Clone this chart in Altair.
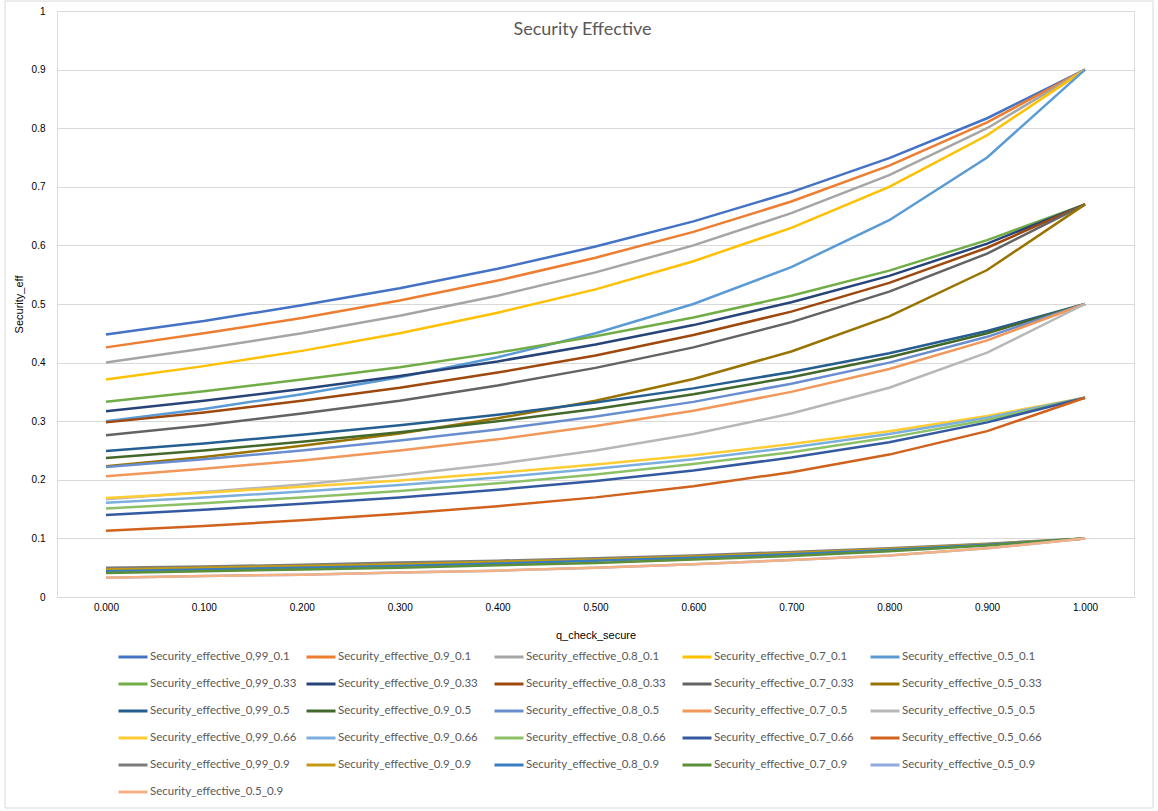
import altair as alt
import pandas as pd

# x axis: probability that a check is secure
q_check_secure = [0.0, 0.1, 0.2, 0.3, 0.4, 0.5, 0.6, 0.7, 0.8, 0.9, 1.0]

# --- group ending at 0.9 ---
eff_099_01 = [0.448, 0.471, 0.498, 0.527, 0.560, 0.598, 0.641, 0.691, 0.749, 0.817, 0.900]
eff_09_01 = [0.426, 0.450, 0.476, 0.506, 0.540, 0.579, 0.623, 0.675, 0.736, 0.810, 0.900]
eff_08_01 = [0.400, 0.424, 0.450, 0.480, 0.514, 0.554, 0.600, 0.655, 0.720, 0.800, 0.900]
eff_07_01 = [0.371, 0.394, 0.420, 0.450, 0.485, 0.525, 0.573, 0.630, 0.700, 0.788, 0.900]
eff_05_01 = [0.300, 0.321, 0.346, 0.375, 0.409, 0.450, 0.500, 0.563, 0.643, 0.750, 0.900]

# --- group ending at 0.67 ---
eff_099_033 = [0.333, 0.351, 0.371, 0.392, 0.417, 0.445, 0.477, 0.514, 0.557, 0.609, 0.670]
eff_09_033 = [0.317, 0.335, 0.355, 0.377, 0.402, 0.431, 0.464, 0.503, 0.548, 0.603, 0.670]
eff_08_033 = [0.298, 0.315, 0.335, 0.357, 0.383, 0.412, 0.447, 0.487, 0.536, 0.596, 0.670]
eff_07_033 = [0.276, 0.293, 0.313, 0.335, 0.361, 0.391, 0.426, 0.469, 0.521, 0.586, 0.670]
eff_05_033 = [0.223, 0.239, 0.258, 0.279, 0.305, 0.335, 0.372, 0.419, 0.479, 0.558, 0.670]

# --- group ending at 0.5 ---
eff_099_05 = [0.249, 0.262, 0.277, 0.293, 0.311, 0.332, 0.356, 0.384, 0.416, 0.454, 0.500]
eff_09_05 = [0.237, 0.250, 0.265, 0.281, 0.300, 0.321, 0.346, 0.375, 0.409, 0.450, 0.500]
eff_08_05 = [0.222, 0.235, 0.250, 0.267, 0.286, 0.308, 0.333, 0.364, 0.400, 0.444, 0.500]
eff_07_05 = [0.206, 0.219, 0.233, 0.250, 0.269, 0.292, 0.318, 0.350, 0.389, 0.438, 0.500]
eff_05_05 = [0.167, 0.179, 0.192, 0.208, 0.227, 0.250, 0.278, 0.313, 0.357, 0.417, 0.500]

# --- group ending at 0.34 ---
eff_099_066 = [0.169, 0.178, 0.188, 0.199, 0.212, 0.226, 0.242, 0.261, 0.283, 0.309, 0.340]
eff_09_066 = [0.161, 0.170, 0.180, 0.191, 0.204, 0.219, 0.235, 0.255, 0.278, 0.306, 0.340]
eff_08_066 = [0.151, 0.160, 0.170, 0.181, 0.194, 0.209, 0.227, 0.247, 0.272, 0.302, 0.340]
eff_07_066 = [0.140, 0.149, 0.159, 0.170, 0.183, 0.198, 0.216, 0.238, 0.264, 0.298, 0.340]
eff_05_066 = [0.113, 0.121, 0.131, 0.142, 0.155, 0.170, 0.189, 0.213, 0.243, 0.283, 0.340]

# --- group ending at 0.1 ---
eff_099_09 = [0.050, 0.052, 0.055, 0.059, 0.062, 0.066, 0.071, 0.077, 0.083, 0.091, 0.100]
eff_09_09 = [0.047, 0.050, 0.053, 0.056, 0.060, 0.064, 0.069, 0.075, 0.082, 0.090, 0.100]
eff_08_09 = [0.044, 0.047, 0.050, 0.053, 0.057, 0.062, 0.067, 0.073, 0.080, 0.089, 0.100]
eff_07_09 = [0.041, 0.044, 0.047, 0.050, 0.054, 0.058, 0.064, 0.070, 0.078, 0.088, 0.100]
eff_05_09 = [0.033, 0.036, 0.038, 0.042, 0.045, 0.050, 0.056, 0.063, 0.071, 0.083, 0.100]
eff_05_09_b = [0.033, 0.036, 0.038, 0.042, 0.045, 0.050, 0.056, 0.063, 0.071, 0.083, 0.100]

series_names = [
    "Security_effective_0,99_0.1", "Security_effective_0.9_0.1", "Security_effective_0.8_0.1",
    "Security_effective_0.7_0.1", "Security_effective_0.5_0.1",
    "Security_effective_0,99_0.33", "Security_effective_0.9_0.33", "Security_effective_0.8_0.33",
    "Security_effective_0.7_0.33", "Security_effective_0.5_0.33",
    "Security_effective_0,99_0.5", "Security_effective_0.9_0.5", "Security_effective_0.8_0.5",
    "Security_effective_0.7_0.5", "Security_effective_0.5_0.5",
    "Security_effective_0,99_0.66", "Security_effective_0.9_0.66", "Security_effective_0.8_0.66",
    "Security_effective_0.7_0.66", "Security_effective_0.5_0.66",
    "Security_effective_0,99_0.9", "Security_effective_0.9_0.9", "Security_effective_0.8_0.9",
    "Security_effective_0.7_0.9", "Security_effective_0.5_0.9",
    "Security_effective_0.5_0.9 ",  # second series carrying the same label
]

series_values = [
    eff_099_01, eff_09_01, eff_08_01, eff_07_01, eff_05_01,
    eff_099_033, eff_09_033, eff_08_033, eff_07_033, eff_05_033,
    eff_099_05, eff_09_05, eff_08_05, eff_07_05, eff_05_05,
    eff_099_066, eff_09_066, eff_08_066, eff_07_066, eff_05_066,
    eff_099_09, eff_09_09, eff_08_09, eff_07_09, eff_05_09, eff_05_09_b,
]

series_colors = [
    "#4472C4", "#ED7D31", "#A5A5A5", "#FFC000", "#5B9BD5",
    "#70AD47", "#264478", "#9E480E", "#636363", "#997300",
    "#255E91", "#43682B", "#698ED0", "#F1975A", "#B7B7B7",
    "#FFCD33", "#7CAFDD", "#8CC168", "#335AA1", "#D0621D",
    "#7C7C7C", "#C49A12", "#3A7CC0", "#5B8F3A", "#8FAADC", "#F4B183",
]

rows = []
for name, vals in zip(series_names, series_values):
    for q, v in zip(q_check_secure, vals):
        rows.append({"series": name, "q": q, "eff": v})
df = pd.DataFrame(rows)

FONT = "Lato"
TEXT = "#595959"
GRID = "#D9D9D9"

lines = alt.Chart(df).mark_line(strokeWidth=2.5).encode(
    x=alt.X(
        "q:Q",
        scale=alt.Scale(domain=[-0.05, 1.05], nice=False, zero=False),
        axis=alt.Axis(
            values=q_check_secure, format=".3f", grid=False, ticks=False, domain=False,
            title="q_check_secure", titleFontWeight="normal", labelPadding=5, titlePadding=17,
        ),
    ),
    y=alt.Y(
        "eff:Q",
        scale=alt.Scale(domain=[0, 1], nice=False),
        axis=alt.Axis(
            values=[0, 0.1, 0.2, 0.3, 0.4, 0.5, 0.6, 0.7, 0.8, 0.9, 1.0],
            labelExpr="format(datum.value, '~g')",
            ticks=False, domain=False, gridColor=GRID, gridWidth=1,
            title="Security_eff", titleFontWeight="normal", labelPadding=12, titlePadding=7,
        ),
    ),
    color=alt.Color(
        "series:N",
        scale=alt.Scale(domain=series_names, range=series_colors),
        sort=series_names,
        legend=alt.Legend(
            title=None, orient="none", direction="horizontal", legendX=60, legendY=630,
            columns=5, symbolType="stroke", symbolSize=841, symbolStrokeWidth=3,
            labelFont=FONT, labelFontSize=11.5, labelColor=TEXT, labelLimit=300,
            labelOffset=1, rowPadding=5, columnPadding=3, gridAlign="all",
        ),
    ),
)

frame = alt.Chart(pd.DataFrame({"k": [0]})).mark_rect(
    fillOpacity=0, stroke=GRID, strokeWidth=1, clip=False
).encode(
    x=alt.value(-52), x2=alt.value(1096), y=alt.value(-10), y2=alt.value(797)
)

chart = alt.layer(frame, lines).properties(
    width=1077,
    height=586,
    padding={"left": 57, "top": 11, "right": 24, "bottom": 214},
    autosize=alt.AutoSizeParams(type="none"),
    title=alt.TitleParams(
        "Security Effective", font=FONT, fontSize=18, fontWeight="normal",
        color=TEXT, anchor="middle", frame="group", baseline="middle",
        offset=0, dy=47, dx=-13,
    ),
).configure_view(stroke=None).configure_axis(
    labelFont=FONT, labelFontSize=12, labelColor=TEXT,
    titleFont=FONT, titleFontSize=13, titleFontWeight="normal", titleColor=TEXT,
).configure(background="white")

chart.save("out.html", embed_options={"renderer": "svg", "actions": False})
